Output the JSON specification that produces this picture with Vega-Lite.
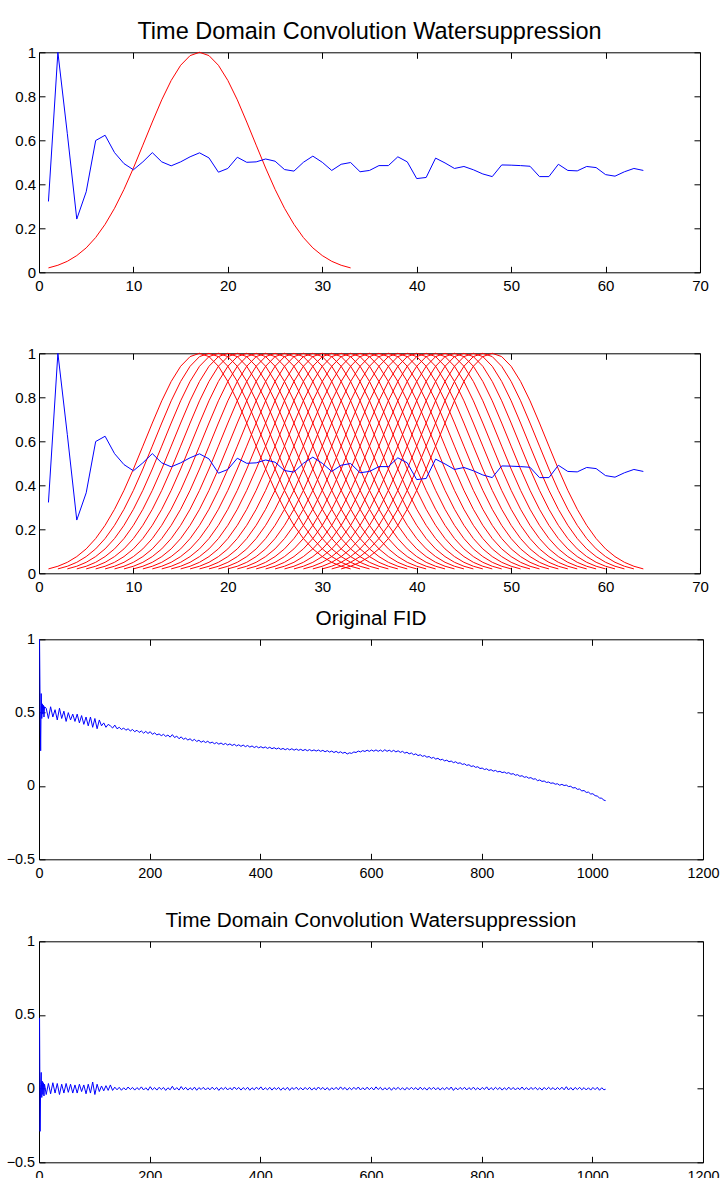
{
  "$schema": "https://vega.github.io/schema/vega-lite/v6.json",
  "background": "white",
  "padding": {"left": 5, "top": 19.3, "right": 3, "bottom": 0},
  "bounds": "full",
  "spacing": 12,
  "config": {
    "font": "Liberation Sans",
    "view": {"stroke": "black", "strokeWidth": 1},
    "axis": {"grid": false, "domain": false, "ticks": true, "tickSize": -6, "tickColor": "black", "labelColor": "black", "labelFont": "Liberation Sans", "labelFontSize": 15, "labelFlush": false, "labelOverlap": false, "format": "~r"},
    "axisX": {"labelPadding": 12.5},
    "axisY": {"labelPadding": 9.3},
    "title": {"font": "Liberation Sans", "fontWeight": "normal", "color": "black", "baseline": "alphabetic", "anchor": "middle"},
    "line": {"strokeWidth": 1}
  },
  "datasets": {
    "blue": [{"x":1,"y":0.322},{"x":2,"y":1.0},{"x":3,"y":0.63},{"x":4,"y":0.242},{"x":5,"y":0.366},{"x":6,"y":0.599},{"x":7,"y":0.623},{"x":8,"y":0.544},{"x":9,"y":0.494},{"x":10,"y":0.466},{"x":11,"y":0.502},{"x":12,"y":0.544},{"x":13,"y":0.502},{"x":14,"y":0.484},{"x":15,"y":0.502},{"x":16,"y":0.525},{"x":17,"y":0.543},{"x":18,"y":0.52},{"x":19,"y":0.455},{"x":20,"y":0.472},{"x":21,"y":0.523},{"x":22,"y":0.5},{"x":23,"y":0.502},{"x":24,"y":0.515},{"x":25,"y":0.505},{"x":26,"y":0.467},{"x":27,"y":0.46},{"x":28,"y":0.5},{"x":29,"y":0.528},{"x":30,"y":0.5},{"x":31,"y":0.463},{"x":32,"y":0.491},{"x":33,"y":0.499},{"x":34,"y":0.457},{"x":35,"y":0.463},{"x":36,"y":0.485},{"x":37,"y":0.485},{"x":38,"y":0.525},{"x":39,"y":0.502},{"x":40,"y":0.426},{"x":41,"y":0.431},{"x":42,"y":0.519},{"x":43,"y":0.497},{"x":44,"y":0.472},{"x":45,"y":0.481},{"x":46,"y":0.466},{"x":47,"y":0.447},{"x":48,"y":0.435},{"x":49,"y":0.488},{"x":50,"y":0.487},{"x":51,"y":0.485},{"x":52,"y":0.482},{"x":53,"y":0.435},{"x":54,"y":0.435},{"x":55,"y":0.491},{"x":56,"y":0.463},{"x":57,"y":0.461},{"x":58,"y":0.481},{"x":59,"y":0.476},{"x":60,"y":0.444},{"x":61,"y":0.437},{"x":62,"y":0.457},{"x":63,"y":0.472},{"x":64,"y":0.463}],
    "redOne": [{"x":1,"y":0.02},{"x":2,"y":0.032},{"x":3,"y":0.05},{"x":4,"y":0.076},{"x":5,"y":0.111},{"x":6,"y":0.158},{"x":7,"y":0.218},{"x":8,"y":0.291},{"x":9,"y":0.377},{"x":10,"y":0.474},{"x":11,"y":0.578},{"x":12,"y":0.683},{"x":13,"y":0.784},{"x":14,"y":0.872},{"x":15,"y":0.941},{"x":16,"y":0.985},{"x":17,"y":1},{"x":18,"y":0.985},{"x":19,"y":0.941},{"x":20,"y":0.872},{"x":21,"y":0.784},{"x":22,"y":0.683},{"x":23,"y":0.578},{"x":24,"y":0.474},{"x":25,"y":0.377},{"x":26,"y":0.291},{"x":27,"y":0.218},{"x":28,"y":0.158},{"x":29,"y":0.111},{"x":30,"y":0.076},{"x":31,"y":0.05},{"x":32,"y":0.032},{"x":33,"y":0.02}],
    "redMulti": [
{"c":1,"x":1,"y":0.02},{"c":1,"x":2,"y":0.032},{"c":1,"x":3,"y":0.05},{"c":1,"x":4,"y":0.076},{"c":1,"x":5,"y":0.111},{"c":1,"x":6,"y":0.158},{"c":1,"x":7,"y":0.218},{"c":1,"x":8,"y":0.291},{"c":1,"x":9,"y":0.377},{"c":1,"x":10,"y":0.474},{"c":1,"x":11,"y":0.578},{"c":1,"x":12,"y":0.683},{"c":1,"x":13,"y":0.784},{"c":1,"x":14,"y":0.872},{"c":1,"x":15,"y":0.941},{"c":1,"x":16,"y":0.985},{"c":1,"x":17,"y":1},{"c":1,"x":18,"y":0.985},{"c":1,"x":19,"y":0.941},{"c":1,"x":20,"y":0.872},{"c":1,"x":21,"y":0.784},{"c":1,"x":22,"y":0.683},{"c":1,"x":23,"y":0.578},{"c":1,"x":24,"y":0.474},{"c":1,"x":25,"y":0.377},{"c":1,"x":26,"y":0.291},{"c":1,"x":27,"y":0.218},{"c":1,"x":28,"y":0.158},{"c":1,"x":29,"y":0.111},{"c":1,"x":30,"y":0.076},{"c":1,"x":31,"y":0.05},{"c":1,"x":32,"y":0.032},{"c":1,"x":33,"y":0.02},
{"c":2,"x":2,"y":0.02},{"c":2,"x":3,"y":0.032},{"c":2,"x":4,"y":0.05},{"c":2,"x":5,"y":0.076},{"c":2,"x":6,"y":0.111},{"c":2,"x":7,"y":0.158},{"c":2,"x":8,"y":0.218},{"c":2,"x":9,"y":0.291},{"c":2,"x":10,"y":0.377},{"c":2,"x":11,"y":0.474},{"c":2,"x":12,"y":0.578},{"c":2,"x":13,"y":0.683},{"c":2,"x":14,"y":0.784},{"c":2,"x":15,"y":0.872},{"c":2,"x":16,"y":0.941},{"c":2,"x":17,"y":0.985},{"c":2,"x":18,"y":1},{"c":2,"x":19,"y":0.985},{"c":2,"x":20,"y":0.941},{"c":2,"x":21,"y":0.872},{"c":2,"x":22,"y":0.784},{"c":2,"x":23,"y":0.683},{"c":2,"x":24,"y":0.578},{"c":2,"x":25,"y":0.474},{"c":2,"x":26,"y":0.377},{"c":2,"x":27,"y":0.291},{"c":2,"x":28,"y":0.218},{"c":2,"x":29,"y":0.158},{"c":2,"x":30,"y":0.111},{"c":2,"x":31,"y":0.076},{"c":2,"x":32,"y":0.05},{"c":2,"x":33,"y":0.032},{"c":2,"x":34,"y":0.02},
{"c":3,"x":3,"y":0.02},{"c":3,"x":4,"y":0.032},{"c":3,"x":5,"y":0.05},{"c":3,"x":6,"y":0.076},{"c":3,"x":7,"y":0.111},{"c":3,"x":8,"y":0.158},{"c":3,"x":9,"y":0.218},{"c":3,"x":10,"y":0.291},{"c":3,"x":11,"y":0.377},{"c":3,"x":12,"y":0.474},{"c":3,"x":13,"y":0.578},{"c":3,"x":14,"y":0.683},{"c":3,"x":15,"y":0.784},{"c":3,"x":16,"y":0.872},{"c":3,"x":17,"y":0.941},{"c":3,"x":18,"y":0.985},{"c":3,"x":19,"y":1},{"c":3,"x":20,"y":0.985},{"c":3,"x":21,"y":0.941},{"c":3,"x":22,"y":0.872},{"c":3,"x":23,"y":0.784},{"c":3,"x":24,"y":0.683},{"c":3,"x":25,"y":0.578},{"c":3,"x":26,"y":0.474},{"c":3,"x":27,"y":0.377},{"c":3,"x":28,"y":0.291},{"c":3,"x":29,"y":0.218},{"c":3,"x":30,"y":0.158},{"c":3,"x":31,"y":0.111},{"c":3,"x":32,"y":0.076},{"c":3,"x":33,"y":0.05},{"c":3,"x":34,"y":0.032},{"c":3,"x":35,"y":0.02},
{"c":4,"x":4,"y":0.02},{"c":4,"x":5,"y":0.032},{"c":4,"x":6,"y":0.05},{"c":4,"x":7,"y":0.076},{"c":4,"x":8,"y":0.111},{"c":4,"x":9,"y":0.158},{"c":4,"x":10,"y":0.218},{"c":4,"x":11,"y":0.291},{"c":4,"x":12,"y":0.377},{"c":4,"x":13,"y":0.474},{"c":4,"x":14,"y":0.578},{"c":4,"x":15,"y":0.683},{"c":4,"x":16,"y":0.784},{"c":4,"x":17,"y":0.872},{"c":4,"x":18,"y":0.941},{"c":4,"x":19,"y":0.985},{"c":4,"x":20,"y":1},{"c":4,"x":21,"y":0.985},{"c":4,"x":22,"y":0.941},{"c":4,"x":23,"y":0.872},{"c":4,"x":24,"y":0.784},{"c":4,"x":25,"y":0.683},{"c":4,"x":26,"y":0.578},{"c":4,"x":27,"y":0.474},{"c":4,"x":28,"y":0.377},{"c":4,"x":29,"y":0.291},{"c":4,"x":30,"y":0.218},{"c":4,"x":31,"y":0.158},{"c":4,"x":32,"y":0.111},{"c":4,"x":33,"y":0.076},{"c":4,"x":34,"y":0.05},{"c":4,"x":35,"y":0.032},{"c":4,"x":36,"y":0.02},
{"c":5,"x":5,"y":0.02},{"c":5,"x":6,"y":0.032},{"c":5,"x":7,"y":0.05},{"c":5,"x":8,"y":0.076},{"c":5,"x":9,"y":0.111},{"c":5,"x":10,"y":0.158},{"c":5,"x":11,"y":0.218},{"c":5,"x":12,"y":0.291},{"c":5,"x":13,"y":0.377},{"c":5,"x":14,"y":0.474},{"c":5,"x":15,"y":0.578},{"c":5,"x":16,"y":0.683},{"c":5,"x":17,"y":0.784},{"c":5,"x":18,"y":0.872},{"c":5,"x":19,"y":0.941},{"c":5,"x":20,"y":0.985},{"c":5,"x":21,"y":1},{"c":5,"x":22,"y":0.985},{"c":5,"x":23,"y":0.941},{"c":5,"x":24,"y":0.872},{"c":5,"x":25,"y":0.784},{"c":5,"x":26,"y":0.683},{"c":5,"x":27,"y":0.578},{"c":5,"x":28,"y":0.474},{"c":5,"x":29,"y":0.377},{"c":5,"x":30,"y":0.291},{"c":5,"x":31,"y":0.218},{"c":5,"x":32,"y":0.158},{"c":5,"x":33,"y":0.111},{"c":5,"x":34,"y":0.076},{"c":5,"x":35,"y":0.05},{"c":5,"x":36,"y":0.032},{"c":5,"x":37,"y":0.02},
{"c":6,"x":6,"y":0.02},{"c":6,"x":7,"y":0.032},{"c":6,"x":8,"y":0.05},{"c":6,"x":9,"y":0.076},{"c":6,"x":10,"y":0.111},{"c":6,"x":11,"y":0.158},{"c":6,"x":12,"y":0.218},{"c":6,"x":13,"y":0.291},{"c":6,"x":14,"y":0.377},{"c":6,"x":15,"y":0.474},{"c":6,"x":16,"y":0.578},{"c":6,"x":17,"y":0.683},{"c":6,"x":18,"y":0.784},{"c":6,"x":19,"y":0.872},{"c":6,"x":20,"y":0.941},{"c":6,"x":21,"y":0.985},{"c":6,"x":22,"y":1},{"c":6,"x":23,"y":0.985},{"c":6,"x":24,"y":0.941},{"c":6,"x":25,"y":0.872},{"c":6,"x":26,"y":0.784},{"c":6,"x":27,"y":0.683},{"c":6,"x":28,"y":0.578},{"c":6,"x":29,"y":0.474},{"c":6,"x":30,"y":0.377},{"c":6,"x":31,"y":0.291},{"c":6,"x":32,"y":0.218},{"c":6,"x":33,"y":0.158},{"c":6,"x":34,"y":0.111},{"c":6,"x":35,"y":0.076},{"c":6,"x":36,"y":0.05},{"c":6,"x":37,"y":0.032},{"c":6,"x":38,"y":0.02},
{"c":7,"x":7,"y":0.02},{"c":7,"x":8,"y":0.032},{"c":7,"x":9,"y":0.05},{"c":7,"x":10,"y":0.076},{"c":7,"x":11,"y":0.111},{"c":7,"x":12,"y":0.158},{"c":7,"x":13,"y":0.218},{"c":7,"x":14,"y":0.291},{"c":7,"x":15,"y":0.377},{"c":7,"x":16,"y":0.474},{"c":7,"x":17,"y":0.578},{"c":7,"x":18,"y":0.683},{"c":7,"x":19,"y":0.784},{"c":7,"x":20,"y":0.872},{"c":7,"x":21,"y":0.941},{"c":7,"x":22,"y":0.985},{"c":7,"x":23,"y":1},{"c":7,"x":24,"y":0.985},{"c":7,"x":25,"y":0.941},{"c":7,"x":26,"y":0.872},{"c":7,"x":27,"y":0.784},{"c":7,"x":28,"y":0.683},{"c":7,"x":29,"y":0.578},{"c":7,"x":30,"y":0.474},{"c":7,"x":31,"y":0.377},{"c":7,"x":32,"y":0.291},{"c":7,"x":33,"y":0.218},{"c":7,"x":34,"y":0.158},{"c":7,"x":35,"y":0.111},{"c":7,"x":36,"y":0.076},{"c":7,"x":37,"y":0.05},{"c":7,"x":38,"y":0.032},{"c":7,"x":39,"y":0.02},
{"c":8,"x":8,"y":0.02},{"c":8,"x":9,"y":0.032},{"c":8,"x":10,"y":0.05},{"c":8,"x":11,"y":0.076},{"c":8,"x":12,"y":0.111},{"c":8,"x":13,"y":0.158},{"c":8,"x":14,"y":0.218},{"c":8,"x":15,"y":0.291},{"c":8,"x":16,"y":0.377},{"c":8,"x":17,"y":0.474},{"c":8,"x":18,"y":0.578},{"c":8,"x":19,"y":0.683},{"c":8,"x":20,"y":0.784},{"c":8,"x":21,"y":0.872},{"c":8,"x":22,"y":0.941},{"c":8,"x":23,"y":0.985},{"c":8,"x":24,"y":1},{"c":8,"x":25,"y":0.985},{"c":8,"x":26,"y":0.941},{"c":8,"x":27,"y":0.872},{"c":8,"x":28,"y":0.784},{"c":8,"x":29,"y":0.683},{"c":8,"x":30,"y":0.578},{"c":8,"x":31,"y":0.474},{"c":8,"x":32,"y":0.377},{"c":8,"x":33,"y":0.291},{"c":8,"x":34,"y":0.218},{"c":8,"x":35,"y":0.158},{"c":8,"x":36,"y":0.111},{"c":8,"x":37,"y":0.076},{"c":8,"x":38,"y":0.05},{"c":8,"x":39,"y":0.032},{"c":8,"x":40,"y":0.02},
{"c":9,"x":9,"y":0.02},{"c":9,"x":10,"y":0.032},{"c":9,"x":11,"y":0.05},{"c":9,"x":12,"y":0.076},{"c":9,"x":13,"y":0.111},{"c":9,"x":14,"y":0.158},{"c":9,"x":15,"y":0.218},{"c":9,"x":16,"y":0.291},{"c":9,"x":17,"y":0.377},{"c":9,"x":18,"y":0.474},{"c":9,"x":19,"y":0.578},{"c":9,"x":20,"y":0.683},{"c":9,"x":21,"y":0.784},{"c":9,"x":22,"y":0.872},{"c":9,"x":23,"y":0.941},{"c":9,"x":24,"y":0.985},{"c":9,"x":25,"y":1},{"c":9,"x":26,"y":0.985},{"c":9,"x":27,"y":0.941},{"c":9,"x":28,"y":0.872},{"c":9,"x":29,"y":0.784},{"c":9,"x":30,"y":0.683},{"c":9,"x":31,"y":0.578},{"c":9,"x":32,"y":0.474},{"c":9,"x":33,"y":0.377},{"c":9,"x":34,"y":0.291},{"c":9,"x":35,"y":0.218},{"c":9,"x":36,"y":0.158},{"c":9,"x":37,"y":0.111},{"c":9,"x":38,"y":0.076},{"c":9,"x":39,"y":0.05},{"c":9,"x":40,"y":0.032},{"c":9,"x":41,"y":0.02},
{"c":10,"x":10,"y":0.02},{"c":10,"x":11,"y":0.032},{"c":10,"x":12,"y":0.05},{"c":10,"x":13,"y":0.076},{"c":10,"x":14,"y":0.111},{"c":10,"x":15,"y":0.158},{"c":10,"x":16,"y":0.218},{"c":10,"x":17,"y":0.291},{"c":10,"x":18,"y":0.377},{"c":10,"x":19,"y":0.474},{"c":10,"x":20,"y":0.578},{"c":10,"x":21,"y":0.683},{"c":10,"x":22,"y":0.784},{"c":10,"x":23,"y":0.872},{"c":10,"x":24,"y":0.941},{"c":10,"x":25,"y":0.985},{"c":10,"x":26,"y":1},{"c":10,"x":27,"y":0.985},{"c":10,"x":28,"y":0.941},{"c":10,"x":29,"y":0.872},{"c":10,"x":30,"y":0.784},{"c":10,"x":31,"y":0.683},{"c":10,"x":32,"y":0.578},{"c":10,"x":33,"y":0.474},{"c":10,"x":34,"y":0.377},{"c":10,"x":35,"y":0.291},{"c":10,"x":36,"y":0.218},{"c":10,"x":37,"y":0.158},{"c":10,"x":38,"y":0.111},{"c":10,"x":39,"y":0.076},{"c":10,"x":40,"y":0.05},{"c":10,"x":41,"y":0.032},{"c":10,"x":42,"y":0.02},
{"c":11,"x":11,"y":0.02},{"c":11,"x":12,"y":0.032},{"c":11,"x":13,"y":0.05},{"c":11,"x":14,"y":0.076},{"c":11,"x":15,"y":0.111},{"c":11,"x":16,"y":0.158},{"c":11,"x":17,"y":0.218},{"c":11,"x":18,"y":0.291},{"c":11,"x":19,"y":0.377},{"c":11,"x":20,"y":0.474},{"c":11,"x":21,"y":0.578},{"c":11,"x":22,"y":0.683},{"c":11,"x":23,"y":0.784},{"c":11,"x":24,"y":0.872},{"c":11,"x":25,"y":0.941},{"c":11,"x":26,"y":0.985},{"c":11,"x":27,"y":1},{"c":11,"x":28,"y":0.985},{"c":11,"x":29,"y":0.941},{"c":11,"x":30,"y":0.872},{"c":11,"x":31,"y":0.784},{"c":11,"x":32,"y":0.683},{"c":11,"x":33,"y":0.578},{"c":11,"x":34,"y":0.474},{"c":11,"x":35,"y":0.377},{"c":11,"x":36,"y":0.291},{"c":11,"x":37,"y":0.218},{"c":11,"x":38,"y":0.158},{"c":11,"x":39,"y":0.111},{"c":11,"x":40,"y":0.076},{"c":11,"x":41,"y":0.05},{"c":11,"x":42,"y":0.032},{"c":11,"x":43,"y":0.02},
{"c":12,"x":12,"y":0.02},{"c":12,"x":13,"y":0.032},{"c":12,"x":14,"y":0.05},{"c":12,"x":15,"y":0.076},{"c":12,"x":16,"y":0.111},{"c":12,"x":17,"y":0.158},{"c":12,"x":18,"y":0.218},{"c":12,"x":19,"y":0.291},{"c":12,"x":20,"y":0.377},{"c":12,"x":21,"y":0.474},{"c":12,"x":22,"y":0.578},{"c":12,"x":23,"y":0.683},{"c":12,"x":24,"y":0.784},{"c":12,"x":25,"y":0.872},{"c":12,"x":26,"y":0.941},{"c":12,"x":27,"y":0.985},{"c":12,"x":28,"y":1},{"c":12,"x":29,"y":0.985},{"c":12,"x":30,"y":0.941},{"c":12,"x":31,"y":0.872},{"c":12,"x":32,"y":0.784},{"c":12,"x":33,"y":0.683},{"c":12,"x":34,"y":0.578},{"c":12,"x":35,"y":0.474},{"c":12,"x":36,"y":0.377},{"c":12,"x":37,"y":0.291},{"c":12,"x":38,"y":0.218},{"c":12,"x":39,"y":0.158},{"c":12,"x":40,"y":0.111},{"c":12,"x":41,"y":0.076},{"c":12,"x":42,"y":0.05},{"c":12,"x":43,"y":0.032},{"c":12,"x":44,"y":0.02},
{"c":13,"x":13,"y":0.02},{"c":13,"x":14,"y":0.032},{"c":13,"x":15,"y":0.05},{"c":13,"x":16,"y":0.076},{"c":13,"x":17,"y":0.111},{"c":13,"x":18,"y":0.158},{"c":13,"x":19,"y":0.218},{"c":13,"x":20,"y":0.291},{"c":13,"x":21,"y":0.377},{"c":13,"x":22,"y":0.474},{"c":13,"x":23,"y":0.578},{"c":13,"x":24,"y":0.683},{"c":13,"x":25,"y":0.784},{"c":13,"x":26,"y":0.872},{"c":13,"x":27,"y":0.941},{"c":13,"x":28,"y":0.985},{"c":13,"x":29,"y":1},{"c":13,"x":30,"y":0.985},{"c":13,"x":31,"y":0.941},{"c":13,"x":32,"y":0.872},{"c":13,"x":33,"y":0.784},{"c":13,"x":34,"y":0.683},{"c":13,"x":35,"y":0.578},{"c":13,"x":36,"y":0.474},{"c":13,"x":37,"y":0.377},{"c":13,"x":38,"y":0.291},{"c":13,"x":39,"y":0.218},{"c":13,"x":40,"y":0.158},{"c":13,"x":41,"y":0.111},{"c":13,"x":42,"y":0.076},{"c":13,"x":43,"y":0.05},{"c":13,"x":44,"y":0.032},{"c":13,"x":45,"y":0.02},
{"c":14,"x":14,"y":0.02},{"c":14,"x":15,"y":0.032},{"c":14,"x":16,"y":0.05},{"c":14,"x":17,"y":0.076},{"c":14,"x":18,"y":0.111},{"c":14,"x":19,"y":0.158},{"c":14,"x":20,"y":0.218},{"c":14,"x":21,"y":0.291},{"c":14,"x":22,"y":0.377},{"c":14,"x":23,"y":0.474},{"c":14,"x":24,"y":0.578},{"c":14,"x":25,"y":0.683},{"c":14,"x":26,"y":0.784},{"c":14,"x":27,"y":0.872},{"c":14,"x":28,"y":0.941},{"c":14,"x":29,"y":0.985},{"c":14,"x":30,"y":1},{"c":14,"x":31,"y":0.985},{"c":14,"x":32,"y":0.941},{"c":14,"x":33,"y":0.872},{"c":14,"x":34,"y":0.784},{"c":14,"x":35,"y":0.683},{"c":14,"x":36,"y":0.578},{"c":14,"x":37,"y":0.474},{"c":14,"x":38,"y":0.377},{"c":14,"x":39,"y":0.291},{"c":14,"x":40,"y":0.218},{"c":14,"x":41,"y":0.158},{"c":14,"x":42,"y":0.111},{"c":14,"x":43,"y":0.076},{"c":14,"x":44,"y":0.05},{"c":14,"x":45,"y":0.032},{"c":14,"x":46,"y":0.02},
{"c":15,"x":15,"y":0.02},{"c":15,"x":16,"y":0.032},{"c":15,"x":17,"y":0.05},{"c":15,"x":18,"y":0.076},{"c":15,"x":19,"y":0.111},{"c":15,"x":20,"y":0.158},{"c":15,"x":21,"y":0.218},{"c":15,"x":22,"y":0.291},{"c":15,"x":23,"y":0.377},{"c":15,"x":24,"y":0.474},{"c":15,"x":25,"y":0.578},{"c":15,"x":26,"y":0.683},{"c":15,"x":27,"y":0.784},{"c":15,"x":28,"y":0.872},{"c":15,"x":29,"y":0.941},{"c":15,"x":30,"y":0.985},{"c":15,"x":31,"y":1},{"c":15,"x":32,"y":0.985},{"c":15,"x":33,"y":0.941},{"c":15,"x":34,"y":0.872},{"c":15,"x":35,"y":0.784},{"c":15,"x":36,"y":0.683},{"c":15,"x":37,"y":0.578},{"c":15,"x":38,"y":0.474},{"c":15,"x":39,"y":0.377},{"c":15,"x":40,"y":0.291},{"c":15,"x":41,"y":0.218},{"c":15,"x":42,"y":0.158},{"c":15,"x":43,"y":0.111},{"c":15,"x":44,"y":0.076},{"c":15,"x":45,"y":0.05},{"c":15,"x":46,"y":0.032},{"c":15,"x":47,"y":0.02},
{"c":16,"x":16,"y":0.02},{"c":16,"x":17,"y":0.032},{"c":16,"x":18,"y":0.05},{"c":16,"x":19,"y":0.076},{"c":16,"x":20,"y":0.111},{"c":16,"x":21,"y":0.158},{"c":16,"x":22,"y":0.218},{"c":16,"x":23,"y":0.291},{"c":16,"x":24,"y":0.377},{"c":16,"x":25,"y":0.474},{"c":16,"x":26,"y":0.578},{"c":16,"x":27,"y":0.683},{"c":16,"x":28,"y":0.784},{"c":16,"x":29,"y":0.872},{"c":16,"x":30,"y":0.941},{"c":16,"x":31,"y":0.985},{"c":16,"x":32,"y":1},{"c":16,"x":33,"y":0.985},{"c":16,"x":34,"y":0.941},{"c":16,"x":35,"y":0.872},{"c":16,"x":36,"y":0.784},{"c":16,"x":37,"y":0.683},{"c":16,"x":38,"y":0.578},{"c":16,"x":39,"y":0.474},{"c":16,"x":40,"y":0.377},{"c":16,"x":41,"y":0.291},{"c":16,"x":42,"y":0.218},{"c":16,"x":43,"y":0.158},{"c":16,"x":44,"y":0.111},{"c":16,"x":45,"y":0.076},{"c":16,"x":46,"y":0.05},{"c":16,"x":47,"y":0.032},{"c":16,"x":48,"y":0.02},
{"c":17,"x":17,"y":0.02},{"c":17,"x":18,"y":0.032},{"c":17,"x":19,"y":0.05},{"c":17,"x":20,"y":0.076},{"c":17,"x":21,"y":0.111},{"c":17,"x":22,"y":0.158},{"c":17,"x":23,"y":0.218},{"c":17,"x":24,"y":0.291},{"c":17,"x":25,"y":0.377},{"c":17,"x":26,"y":0.474},{"c":17,"x":27,"y":0.578},{"c":17,"x":28,"y":0.683},{"c":17,"x":29,"y":0.784},{"c":17,"x":30,"y":0.872},{"c":17,"x":31,"y":0.941},{"c":17,"x":32,"y":0.985},{"c":17,"x":33,"y":1},{"c":17,"x":34,"y":0.985},{"c":17,"x":35,"y":0.941},{"c":17,"x":36,"y":0.872},{"c":17,"x":37,"y":0.784},{"c":17,"x":38,"y":0.683},{"c":17,"x":39,"y":0.578},{"c":17,"x":40,"y":0.474},{"c":17,"x":41,"y":0.377},{"c":17,"x":42,"y":0.291},{"c":17,"x":43,"y":0.218},{"c":17,"x":44,"y":0.158},{"c":17,"x":45,"y":0.111},{"c":17,"x":46,"y":0.076},{"c":17,"x":47,"y":0.05},{"c":17,"x":48,"y":0.032},{"c":17,"x":49,"y":0.02},
{"c":18,"x":18,"y":0.02},{"c":18,"x":19,"y":0.032},{"c":18,"x":20,"y":0.05},{"c":18,"x":21,"y":0.076},{"c":18,"x":22,"y":0.111},{"c":18,"x":23,"y":0.158},{"c":18,"x":24,"y":0.218},{"c":18,"x":25,"y":0.291},{"c":18,"x":26,"y":0.377},{"c":18,"x":27,"y":0.474},{"c":18,"x":28,"y":0.578},{"c":18,"x":29,"y":0.683},{"c":18,"x":30,"y":0.784},{"c":18,"x":31,"y":0.872},{"c":18,"x":32,"y":0.941},{"c":18,"x":33,"y":0.985},{"c":18,"x":34,"y":1},{"c":18,"x":35,"y":0.985},{"c":18,"x":36,"y":0.941},{"c":18,"x":37,"y":0.872},{"c":18,"x":38,"y":0.784},{"c":18,"x":39,"y":0.683},{"c":18,"x":40,"y":0.578},{"c":18,"x":41,"y":0.474},{"c":18,"x":42,"y":0.377},{"c":18,"x":43,"y":0.291},{"c":18,"x":44,"y":0.218},{"c":18,"x":45,"y":0.158},{"c":18,"x":46,"y":0.111},{"c":18,"x":47,"y":0.076},{"c":18,"x":48,"y":0.05},{"c":18,"x":49,"y":0.032},{"c":18,"x":50,"y":0.02},
{"c":19,"x":19,"y":0.02},{"c":19,"x":20,"y":0.032},{"c":19,"x":21,"y":0.05},{"c":19,"x":22,"y":0.076},{"c":19,"x":23,"y":0.111},{"c":19,"x":24,"y":0.158},{"c":19,"x":25,"y":0.218},{"c":19,"x":26,"y":0.291},{"c":19,"x":27,"y":0.377},{"c":19,"x":28,"y":0.474},{"c":19,"x":29,"y":0.578},{"c":19,"x":30,"y":0.683},{"c":19,"x":31,"y":0.784},{"c":19,"x":32,"y":0.872},{"c":19,"x":33,"y":0.941},{"c":19,"x":34,"y":0.985},{"c":19,"x":35,"y":1},{"c":19,"x":36,"y":0.985},{"c":19,"x":37,"y":0.941},{"c":19,"x":38,"y":0.872},{"c":19,"x":39,"y":0.784},{"c":19,"x":40,"y":0.683},{"c":19,"x":41,"y":0.578},{"c":19,"x":42,"y":0.474},{"c":19,"x":43,"y":0.377},{"c":19,"x":44,"y":0.291},{"c":19,"x":45,"y":0.218},{"c":19,"x":46,"y":0.158},{"c":19,"x":47,"y":0.111},{"c":19,"x":48,"y":0.076},{"c":19,"x":49,"y":0.05},{"c":19,"x":50,"y":0.032},{"c":19,"x":51,"y":0.02},
{"c":20,"x":20,"y":0.02},{"c":20,"x":21,"y":0.032},{"c":20,"x":22,"y":0.05},{"c":20,"x":23,"y":0.076},{"c":20,"x":24,"y":0.111},{"c":20,"x":25,"y":0.158},{"c":20,"x":26,"y":0.218},{"c":20,"x":27,"y":0.291},{"c":20,"x":28,"y":0.377},{"c":20,"x":29,"y":0.474},{"c":20,"x":30,"y":0.578},{"c":20,"x":31,"y":0.683},{"c":20,"x":32,"y":0.784},{"c":20,"x":33,"y":0.872},{"c":20,"x":34,"y":0.941},{"c":20,"x":35,"y":0.985},{"c":20,"x":36,"y":1},{"c":20,"x":37,"y":0.985},{"c":20,"x":38,"y":0.941},{"c":20,"x":39,"y":0.872},{"c":20,"x":40,"y":0.784},{"c":20,"x":41,"y":0.683},{"c":20,"x":42,"y":0.578},{"c":20,"x":43,"y":0.474},{"c":20,"x":44,"y":0.377},{"c":20,"x":45,"y":0.291},{"c":20,"x":46,"y":0.218},{"c":20,"x":47,"y":0.158},{"c":20,"x":48,"y":0.111},{"c":20,"x":49,"y":0.076},{"c":20,"x":50,"y":0.05},{"c":20,"x":51,"y":0.032},{"c":20,"x":52,"y":0.02},
{"c":21,"x":21,"y":0.02},{"c":21,"x":22,"y":0.032},{"c":21,"x":23,"y":0.05},{"c":21,"x":24,"y":0.076},{"c":21,"x":25,"y":0.111},{"c":21,"x":26,"y":0.158},{"c":21,"x":27,"y":0.218},{"c":21,"x":28,"y":0.291},{"c":21,"x":29,"y":0.377},{"c":21,"x":30,"y":0.474},{"c":21,"x":31,"y":0.578},{"c":21,"x":32,"y":0.683},{"c":21,"x":33,"y":0.784},{"c":21,"x":34,"y":0.872},{"c":21,"x":35,"y":0.941},{"c":21,"x":36,"y":0.985},{"c":21,"x":37,"y":1},{"c":21,"x":38,"y":0.985},{"c":21,"x":39,"y":0.941},{"c":21,"x":40,"y":0.872},{"c":21,"x":41,"y":0.784},{"c":21,"x":42,"y":0.683},{"c":21,"x":43,"y":0.578},{"c":21,"x":44,"y":0.474},{"c":21,"x":45,"y":0.377},{"c":21,"x":46,"y":0.291},{"c":21,"x":47,"y":0.218},{"c":21,"x":48,"y":0.158},{"c":21,"x":49,"y":0.111},{"c":21,"x":50,"y":0.076},{"c":21,"x":51,"y":0.05},{"c":21,"x":52,"y":0.032},{"c":21,"x":53,"y":0.02},
{"c":22,"x":22,"y":0.02},{"c":22,"x":23,"y":0.032},{"c":22,"x":24,"y":0.05},{"c":22,"x":25,"y":0.076},{"c":22,"x":26,"y":0.111},{"c":22,"x":27,"y":0.158},{"c":22,"x":28,"y":0.218},{"c":22,"x":29,"y":0.291},{"c":22,"x":30,"y":0.377},{"c":22,"x":31,"y":0.474},{"c":22,"x":32,"y":0.578},{"c":22,"x":33,"y":0.683},{"c":22,"x":34,"y":0.784},{"c":22,"x":35,"y":0.872},{"c":22,"x":36,"y":0.941},{"c":22,"x":37,"y":0.985},{"c":22,"x":38,"y":1},{"c":22,"x":39,"y":0.985},{"c":22,"x":40,"y":0.941},{"c":22,"x":41,"y":0.872},{"c":22,"x":42,"y":0.784},{"c":22,"x":43,"y":0.683},{"c":22,"x":44,"y":0.578},{"c":22,"x":45,"y":0.474},{"c":22,"x":46,"y":0.377},{"c":22,"x":47,"y":0.291},{"c":22,"x":48,"y":0.218},{"c":22,"x":49,"y":0.158},{"c":22,"x":50,"y":0.111},{"c":22,"x":51,"y":0.076},{"c":22,"x":52,"y":0.05},{"c":22,"x":53,"y":0.032},{"c":22,"x":54,"y":0.02},
{"c":23,"x":23,"y":0.02},{"c":23,"x":24,"y":0.032},{"c":23,"x":25,"y":0.05},{"c":23,"x":26,"y":0.076},{"c":23,"x":27,"y":0.111},{"c":23,"x":28,"y":0.158},{"c":23,"x":29,"y":0.218},{"c":23,"x":30,"y":0.291},{"c":23,"x":31,"y":0.377},{"c":23,"x":32,"y":0.474},{"c":23,"x":33,"y":0.578},{"c":23,"x":34,"y":0.683},{"c":23,"x":35,"y":0.784},{"c":23,"x":36,"y":0.872},{"c":23,"x":37,"y":0.941},{"c":23,"x":38,"y":0.985},{"c":23,"x":39,"y":1},{"c":23,"x":40,"y":0.985},{"c":23,"x":41,"y":0.941},{"c":23,"x":42,"y":0.872},{"c":23,"x":43,"y":0.784},{"c":23,"x":44,"y":0.683},{"c":23,"x":45,"y":0.578},{"c":23,"x":46,"y":0.474},{"c":23,"x":47,"y":0.377},{"c":23,"x":48,"y":0.291},{"c":23,"x":49,"y":0.218},{"c":23,"x":50,"y":0.158},{"c":23,"x":51,"y":0.111},{"c":23,"x":52,"y":0.076},{"c":23,"x":53,"y":0.05},{"c":23,"x":54,"y":0.032},{"c":23,"x":55,"y":0.02},
{"c":24,"x":24,"y":0.02},{"c":24,"x":25,"y":0.032},{"c":24,"x":26,"y":0.05},{"c":24,"x":27,"y":0.076},{"c":24,"x":28,"y":0.111},{"c":24,"x":29,"y":0.158},{"c":24,"x":30,"y":0.218},{"c":24,"x":31,"y":0.291},{"c":24,"x":32,"y":0.377},{"c":24,"x":33,"y":0.474},{"c":24,"x":34,"y":0.578},{"c":24,"x":35,"y":0.683},{"c":24,"x":36,"y":0.784},{"c":24,"x":37,"y":0.872},{"c":24,"x":38,"y":0.941},{"c":24,"x":39,"y":0.985},{"c":24,"x":40,"y":1},{"c":24,"x":41,"y":0.985},{"c":24,"x":42,"y":0.941},{"c":24,"x":43,"y":0.872},{"c":24,"x":44,"y":0.784},{"c":24,"x":45,"y":0.683},{"c":24,"x":46,"y":0.578},{"c":24,"x":47,"y":0.474},{"c":24,"x":48,"y":0.377},{"c":24,"x":49,"y":0.291},{"c":24,"x":50,"y":0.218},{"c":24,"x":51,"y":0.158},{"c":24,"x":52,"y":0.111},{"c":24,"x":53,"y":0.076},{"c":24,"x":54,"y":0.05},{"c":24,"x":55,"y":0.032},{"c":24,"x":56,"y":0.02},
{"c":25,"x":25,"y":0.02},{"c":25,"x":26,"y":0.032},{"c":25,"x":27,"y":0.05},{"c":25,"x":28,"y":0.076},{"c":25,"x":29,"y":0.111},{"c":25,"x":30,"y":0.158},{"c":25,"x":31,"y":0.218},{"c":25,"x":32,"y":0.291},{"c":25,"x":33,"y":0.377},{"c":25,"x":34,"y":0.474},{"c":25,"x":35,"y":0.578},{"c":25,"x":36,"y":0.683},{"c":25,"x":37,"y":0.784},{"c":25,"x":38,"y":0.872},{"c":25,"x":39,"y":0.941},{"c":25,"x":40,"y":0.985},{"c":25,"x":41,"y":1},{"c":25,"x":42,"y":0.985},{"c":25,"x":43,"y":0.941},{"c":25,"x":44,"y":0.872},{"c":25,"x":45,"y":0.784},{"c":25,"x":46,"y":0.683},{"c":25,"x":47,"y":0.578},{"c":25,"x":48,"y":0.474},{"c":25,"x":49,"y":0.377},{"c":25,"x":50,"y":0.291},{"c":25,"x":51,"y":0.218},{"c":25,"x":52,"y":0.158},{"c":25,"x":53,"y":0.111},{"c":25,"x":54,"y":0.076},{"c":25,"x":55,"y":0.05},{"c":25,"x":56,"y":0.032},{"c":25,"x":57,"y":0.02},
{"c":26,"x":26,"y":0.02},{"c":26,"x":27,"y":0.032},{"c":26,"x":28,"y":0.05},{"c":26,"x":29,"y":0.076},{"c":26,"x":30,"y":0.111},{"c":26,"x":31,"y":0.158},{"c":26,"x":32,"y":0.218},{"c":26,"x":33,"y":0.291},{"c":26,"x":34,"y":0.377},{"c":26,"x":35,"y":0.474},{"c":26,"x":36,"y":0.578},{"c":26,"x":37,"y":0.683},{"c":26,"x":38,"y":0.784},{"c":26,"x":39,"y":0.872},{"c":26,"x":40,"y":0.941},{"c":26,"x":41,"y":0.985},{"c":26,"x":42,"y":1},{"c":26,"x":43,"y":0.985},{"c":26,"x":44,"y":0.941},{"c":26,"x":45,"y":0.872},{"c":26,"x":46,"y":0.784},{"c":26,"x":47,"y":0.683},{"c":26,"x":48,"y":0.578},{"c":26,"x":49,"y":0.474},{"c":26,"x":50,"y":0.377},{"c":26,"x":51,"y":0.291},{"c":26,"x":52,"y":0.218},{"c":26,"x":53,"y":0.158},{"c":26,"x":54,"y":0.111},{"c":26,"x":55,"y":0.076},{"c":26,"x":56,"y":0.05},{"c":26,"x":57,"y":0.032},{"c":26,"x":58,"y":0.02},
{"c":27,"x":27,"y":0.02},{"c":27,"x":28,"y":0.032},{"c":27,"x":29,"y":0.05},{"c":27,"x":30,"y":0.076},{"c":27,"x":31,"y":0.111},{"c":27,"x":32,"y":0.158},{"c":27,"x":33,"y":0.218},{"c":27,"x":34,"y":0.291},{"c":27,"x":35,"y":0.377},{"c":27,"x":36,"y":0.474},{"c":27,"x":37,"y":0.578},{"c":27,"x":38,"y":0.683},{"c":27,"x":39,"y":0.784},{"c":27,"x":40,"y":0.872},{"c":27,"x":41,"y":0.941},{"c":27,"x":42,"y":0.985},{"c":27,"x":43,"y":1},{"c":27,"x":44,"y":0.985},{"c":27,"x":45,"y":0.941},{"c":27,"x":46,"y":0.872},{"c":27,"x":47,"y":0.784},{"c":27,"x":48,"y":0.683},{"c":27,"x":49,"y":0.578},{"c":27,"x":50,"y":0.474},{"c":27,"x":51,"y":0.377},{"c":27,"x":52,"y":0.291},{"c":27,"x":53,"y":0.218},{"c":27,"x":54,"y":0.158},{"c":27,"x":55,"y":0.111},{"c":27,"x":56,"y":0.076},{"c":27,"x":57,"y":0.05},{"c":27,"x":58,"y":0.032},{"c":27,"x":59,"y":0.02},
{"c":28,"x":28,"y":0.02},{"c":28,"x":29,"y":0.032},{"c":28,"x":30,"y":0.05},{"c":28,"x":31,"y":0.076},{"c":28,"x":32,"y":0.111},{"c":28,"x":33,"y":0.158},{"c":28,"x":34,"y":0.218},{"c":28,"x":35,"y":0.291},{"c":28,"x":36,"y":0.377},{"c":28,"x":37,"y":0.474},{"c":28,"x":38,"y":0.578},{"c":28,"x":39,"y":0.683},{"c":28,"x":40,"y":0.784},{"c":28,"x":41,"y":0.872},{"c":28,"x":42,"y":0.941},{"c":28,"x":43,"y":0.985},{"c":28,"x":44,"y":1},{"c":28,"x":45,"y":0.985},{"c":28,"x":46,"y":0.941},{"c":28,"x":47,"y":0.872},{"c":28,"x":48,"y":0.784},{"c":28,"x":49,"y":0.683},{"c":28,"x":50,"y":0.578},{"c":28,"x":51,"y":0.474},{"c":28,"x":52,"y":0.377},{"c":28,"x":53,"y":0.291},{"c":28,"x":54,"y":0.218},{"c":28,"x":55,"y":0.158},{"c":28,"x":56,"y":0.111},{"c":28,"x":57,"y":0.076},{"c":28,"x":58,"y":0.05},{"c":28,"x":59,"y":0.032},{"c":28,"x":60,"y":0.02},
{"c":29,"x":29,"y":0.02},{"c":29,"x":30,"y":0.032},{"c":29,"x":31,"y":0.05},{"c":29,"x":32,"y":0.076},{"c":29,"x":33,"y":0.111},{"c":29,"x":34,"y":0.158},{"c":29,"x":35,"y":0.218},{"c":29,"x":36,"y":0.291},{"c":29,"x":37,"y":0.377},{"c":29,"x":38,"y":0.474},{"c":29,"x":39,"y":0.578},{"c":29,"x":40,"y":0.683},{"c":29,"x":41,"y":0.784},{"c":29,"x":42,"y":0.872},{"c":29,"x":43,"y":0.941},{"c":29,"x":44,"y":0.985},{"c":29,"x":45,"y":1},{"c":29,"x":46,"y":0.985},{"c":29,"x":47,"y":0.941},{"c":29,"x":48,"y":0.872},{"c":29,"x":49,"y":0.784},{"c":29,"x":50,"y":0.683},{"c":29,"x":51,"y":0.578},{"c":29,"x":52,"y":0.474},{"c":29,"x":53,"y":0.377},{"c":29,"x":54,"y":0.291},{"c":29,"x":55,"y":0.218},{"c":29,"x":56,"y":0.158},{"c":29,"x":57,"y":0.111},{"c":29,"x":58,"y":0.076},{"c":29,"x":59,"y":0.05},{"c":29,"x":60,"y":0.032},{"c":29,"x":61,"y":0.02},
{"c":30,"x":30,"y":0.02},{"c":30,"x":31,"y":0.032},{"c":30,"x":32,"y":0.05},{"c":30,"x":33,"y":0.076},{"c":30,"x":34,"y":0.111},{"c":30,"x":35,"y":0.158},{"c":30,"x":36,"y":0.218},{"c":30,"x":37,"y":0.291},{"c":30,"x":38,"y":0.377},{"c":30,"x":39,"y":0.474},{"c":30,"x":40,"y":0.578},{"c":30,"x":41,"y":0.683},{"c":30,"x":42,"y":0.784},{"c":30,"x":43,"y":0.872},{"c":30,"x":44,"y":0.941},{"c":30,"x":45,"y":0.985},{"c":30,"x":46,"y":1},{"c":30,"x":47,"y":0.985},{"c":30,"x":48,"y":0.941},{"c":30,"x":49,"y":0.872},{"c":30,"x":50,"y":0.784},{"c":30,"x":51,"y":0.683},{"c":30,"x":52,"y":0.578},{"c":30,"x":53,"y":0.474},{"c":30,"x":54,"y":0.377},{"c":30,"x":55,"y":0.291},{"c":30,"x":56,"y":0.218},{"c":30,"x":57,"y":0.158},{"c":30,"x":58,"y":0.111},{"c":30,"x":59,"y":0.076},{"c":30,"x":60,"y":0.05},{"c":30,"x":61,"y":0.032},{"c":30,"x":62,"y":0.02},
{"c":31,"x":31,"y":0.02},{"c":31,"x":32,"y":0.032},{"c":31,"x":33,"y":0.05},{"c":31,"x":34,"y":0.076},{"c":31,"x":35,"y":0.111},{"c":31,"x":36,"y":0.158},{"c":31,"x":37,"y":0.218},{"c":31,"x":38,"y":0.291},{"c":31,"x":39,"y":0.377},{"c":31,"x":40,"y":0.474},{"c":31,"x":41,"y":0.578},{"c":31,"x":42,"y":0.683},{"c":31,"x":43,"y":0.784},{"c":31,"x":44,"y":0.872},{"c":31,"x":45,"y":0.941},{"c":31,"x":46,"y":0.985},{"c":31,"x":47,"y":1},{"c":31,"x":48,"y":0.985},{"c":31,"x":49,"y":0.941},{"c":31,"x":50,"y":0.872},{"c":31,"x":51,"y":0.784},{"c":31,"x":52,"y":0.683},{"c":31,"x":53,"y":0.578},{"c":31,"x":54,"y":0.474},{"c":31,"x":55,"y":0.377},{"c":31,"x":56,"y":0.291},{"c":31,"x":57,"y":0.218},{"c":31,"x":58,"y":0.158},{"c":31,"x":59,"y":0.111},{"c":31,"x":60,"y":0.076},{"c":31,"x":61,"y":0.05},{"c":31,"x":62,"y":0.032},{"c":31,"x":63,"y":0.02},
{"c":32,"x":32,"y":0.02},{"c":32,"x":33,"y":0.032},{"c":32,"x":34,"y":0.05},{"c":32,"x":35,"y":0.076},{"c":32,"x":36,"y":0.111},{"c":32,"x":37,"y":0.158},{"c":32,"x":38,"y":0.218},{"c":32,"x":39,"y":0.291},{"c":32,"x":40,"y":0.377},{"c":32,"x":41,"y":0.474},{"c":32,"x":42,"y":0.578},{"c":32,"x":43,"y":0.683},{"c":32,"x":44,"y":0.784},{"c":32,"x":45,"y":0.872},{"c":32,"x":46,"y":0.941},{"c":32,"x":47,"y":0.985},{"c":32,"x":48,"y":1},{"c":32,"x":49,"y":0.985},{"c":32,"x":50,"y":0.941},{"c":32,"x":51,"y":0.872},{"c":32,"x":52,"y":0.784},{"c":32,"x":53,"y":0.683},{"c":32,"x":54,"y":0.578},{"c":32,"x":55,"y":0.474},{"c":32,"x":56,"y":0.377},{"c":32,"x":57,"y":0.291},{"c":32,"x":58,"y":0.218},{"c":32,"x":59,"y":0.158},{"c":32,"x":60,"y":0.111},{"c":32,"x":61,"y":0.076},{"c":32,"x":62,"y":0.05},{"c":32,"x":63,"y":0.032},{"c":32,"x":64,"y":0.02}
    ],
    "fid": [{"x":1,"y":1.0},{"x":2,"y":0.55},{"x":3,"y":0.24},{"x":4,"y":0.63},{"x":5,"y":0.46},{"x":6,"y":0.56},{"x":7,"y":0.49},{"x":8,"y":0.55},{"x":9,"y":0.47},{"x":10,"y":0.54},{"x":13,"y":0.53},{"x":17,"y":0.46},{"x":21,"y":0.54},{"x":25,"y":0.47},{"x":29,"y":0.52},{"x":33,"y":0.45},{"x":37,"y":0.53},{"x":41,"y":0.46},{"x":45,"y":0.51},{"x":49,"y":0.44},{"x":53,"y":0.5},{"x":57,"y":0.45},{"x":61,"y":0.49},{"x":65,"y":0.44},{"x":69,"y":0.49},{"x":73,"y":0.43},{"x":77,"y":0.48},{"x":81,"y":0.42},{"x":85,"y":0.47},{"x":89,"y":0.41},{"x":93,"y":0.47},{"x":97,"y":0.4},{"x":101,"y":0.46},{"x":105,"y":0.39},{"x":109,"y":0.45},{"x":113,"y":0.41},{"x":117,"y":0.43},{"x":121,"y":0.4},{"x":125,"y":0.42},{"x":129,"y":0.41},{"x":133,"y":0.395},{"x":137,"y":0.415},{"x":141,"y":0.39},{"x":145,"y":0.4},{"x":149,"y":0.385},{"x":153,"y":0.395},{"x":157,"y":0.38},{"x":161,"y":0.39},{"x":165,"y":0.375},{"x":169,"y":0.385},{"x":173,"y":0.37},{"x":177,"y":0.38},{"x":181,"y":0.365},{"x":185,"y":0.375},{"x":189,"y":0.36},{"x":193,"y":0.372},{"x":197,"y":0.358},{"x":201,"y":0.37},{"x":205,"y":0.352},{"x":209,"y":0.362},{"x":213,"y":0.348},{"x":217,"y":0.355},{"x":221,"y":0.343},{"x":225,"y":0.352},{"x":229,"y":0.338},{"x":233,"y":0.347},{"x":237,"y":0.333},{"x":241,"y":0.35},{"x":245,"y":0.33},{"x":249,"y":0.34},{"x":253,"y":0.322},{"x":257,"y":0.335},{"x":261,"y":0.318},{"x":265,"y":0.326},{"x":269,"y":0.313},{"x":273,"y":0.322},{"x":277,"y":0.308},{"x":281,"y":0.318},{"x":285,"y":0.303},{"x":289,"y":0.312},{"x":293,"y":0.298},{"x":297,"y":0.307},{"x":301,"y":0.296},{"x":305,"y":0.305},{"x":309,"y":0.292},{"x":313,"y":0.299},{"x":317,"y":0.288},{"x":321,"y":0.296},{"x":325,"y":0.285},{"x":329,"y":0.293},{"x":333,"y":0.282},{"x":337,"y":0.29},{"x":341,"y":0.279},{"x":345,"y":0.287},{"x":349,"y":0.276},{"x":353,"y":0.284},{"x":357,"y":0.273},{"x":361,"y":0.281},{"x":365,"y":0.27},{"x":369,"y":0.279},{"x":373,"y":0.268},{"x":377,"y":0.276},{"x":381,"y":0.265},{"x":385,"y":0.273},{"x":389,"y":0.262},{"x":393,"y":0.27},{"x":397,"y":0.26},{"x":401,"y":0.268},{"x":405,"y":0.259},{"x":409,"y":0.266},{"x":413,"y":0.256},{"x":417,"y":0.264},{"x":421,"y":0.254},{"x":425,"y":0.261},{"x":429,"y":0.252},{"x":433,"y":0.259},{"x":437,"y":0.249},{"x":441,"y":0.256},{"x":445,"y":0.247},{"x":449,"y":0.255},{"x":453,"y":0.246},{"x":457,"y":0.254},{"x":461,"y":0.244},{"x":465,"y":0.252},{"x":469,"y":0.243},{"x":473,"y":0.25},{"x":477,"y":0.241},{"x":481,"y":0.249},{"x":485,"y":0.24},{"x":489,"y":0.248},{"x":493,"y":0.239},{"x":497,"y":0.246},{"x":501,"y":0.238},{"x":505,"y":0.245},{"x":509,"y":0.236},{"x":513,"y":0.243},{"x":517,"y":0.233},{"x":521,"y":0.241},{"x":525,"y":0.231},{"x":529,"y":0.238},{"x":533,"y":0.228},{"x":537,"y":0.236},{"x":541,"y":0.226},{"x":545,"y":0.233},{"x":549,"y":0.223},{"x":553,"y":0.23},{"x":557,"y":0.218},{"x":561,"y":0.226},{"x":565,"y":0.222},{"x":569,"y":0.232},{"x":573,"y":0.228},{"x":577,"y":0.238},{"x":581,"y":0.232},{"x":585,"y":0.241},{"x":589,"y":0.235},{"x":593,"y":0.244},{"x":597,"y":0.236},{"x":601,"y":0.245},{"x":605,"y":0.237},{"x":609,"y":0.246},{"x":613,"y":0.236},{"x":617,"y":0.245},{"x":621,"y":0.235},{"x":625,"y":0.247},{"x":629,"y":0.236},{"x":633,"y":0.244},{"x":637,"y":0.234},{"x":641,"y":0.243},{"x":645,"y":0.232},{"x":649,"y":0.24},{"x":653,"y":0.229},{"x":657,"y":0.236},{"x":661,"y":0.224},{"x":665,"y":0.23},{"x":669,"y":0.219},{"x":673,"y":0.225},{"x":677,"y":0.213},{"x":681,"y":0.219},{"x":685,"y":0.207},{"x":689,"y":0.213},{"x":693,"y":0.202},{"x":697,"y":0.207},{"x":701,"y":0.196},{"x":705,"y":0.201},{"x":709,"y":0.189},{"x":713,"y":0.195},{"x":717,"y":0.183},{"x":721,"y":0.189},{"x":725,"y":0.177},{"x":729,"y":0.182},{"x":733,"y":0.171},{"x":737,"y":0.176},{"x":741,"y":0.165},{"x":745,"y":0.17},{"x":749,"y":0.159},{"x":753,"y":0.165},{"x":757,"y":0.154},{"x":761,"y":0.158},{"x":765,"y":0.147},{"x":769,"y":0.151},{"x":773,"y":0.14},{"x":777,"y":0.145},{"x":781,"y":0.133},{"x":785,"y":0.137},{"x":789,"y":0.127},{"x":793,"y":0.131},{"x":797,"y":0.119},{"x":801,"y":0.122},{"x":805,"y":0.112},{"x":809,"y":0.117},{"x":813,"y":0.106},{"x":817,"y":0.111},{"x":821,"y":0.101},{"x":825,"y":0.106},{"x":829,"y":0.096},{"x":833,"y":0.1},{"x":837,"y":0.091},{"x":841,"y":0.095},{"x":845,"y":0.086},{"x":849,"y":0.091},{"x":853,"y":0.08},{"x":857,"y":0.084},{"x":861,"y":0.073},{"x":865,"y":0.077},{"x":869,"y":0.066},{"x":873,"y":0.07},{"x":877,"y":0.059},{"x":881,"y":0.063},{"x":885,"y":0.053},{"x":889,"y":0.057},{"x":893,"y":0.046},{"x":897,"y":0.049},{"x":901,"y":0.036},{"x":905,"y":0.041},{"x":909,"y":0.031},{"x":913,"y":0.034},{"x":917,"y":0.024},{"x":921,"y":0.027},{"x":925,"y":0.018},{"x":929,"y":0.021},{"x":933,"y":0.012},{"x":937,"y":0.015},{"x":941,"y":0.005},{"x":945,"y":0.011},{"x":949,"y":0.003},{"x":953,"y":0.006},{"x":957,"y":-0.004},{"x":961,"y":-0.002},{"x":965,"y":-0.014},{"x":969,"y":-0.011},{"x":973,"y":-0.023},{"x":977,"y":-0.021},{"x":981,"y":-0.034},{"x":985,"y":-0.031},{"x":989,"y":-0.044},{"x":993,"y":-0.042},{"x":997,"y":-0.055},{"x":1001,"y":-0.053},{"x":1005,"y":-0.066},{"x":1009,"y":-0.069},{"x":1013,"y":-0.082},{"x":1017,"y":-0.084},{"x":1021,"y":-0.097},{"x":1024,"y":-0.1}],
    "supp": [{"x":1,"y":0.48},{"x":2,"y":-0.29},{"x":3,"y":0.03},{"x":4,"y":0.11},{"x":5,"y":-0.06},{"x":6,"y":0.05},{"x":7,"y":-0.04},{"x":8,"y":0.04},{"x":9,"y":-0.05},{"x":10,"y":0.03},{"x":13,"y":-0.04},{"x":17,"y":0.035},{"x":21,"y":-0.035},{"x":25,"y":0.04},{"x":29,"y":-0.03},{"x":33,"y":0.035},{"x":37,"y":-0.04},{"x":41,"y":0.03},{"x":45,"y":-0.03},{"x":49,"y":0.035},{"x":53,"y":-0.025},{"x":57,"y":0.03},{"x":61,"y":-0.03},{"x":65,"y":0.025},{"x":69,"y":-0.03},{"x":73,"y":0.03},{"x":77,"y":-0.02},{"x":81,"y":0.025},{"x":85,"y":-0.035},{"x":89,"y":0.03},{"x":93,"y":-0.03},{"x":97,"y":0.045},{"x":101,"y":-0.04},{"x":105,"y":0.03},{"x":109,"y":-0.02},{"x":113,"y":0.018},{"x":117,"y":-0.015},{"x":121,"y":0.02},{"x":125,"y":-0.012},{"x":129,"y":0.025},{"x":133,"y":-0.012},{"x":137,"y":0.01},{"x":141,"y":-0.008},{"x":145,"y":0.009},{"x":149,"y":-0.011},{"x":153,"y":0.006},{"x":157,"y":-0.009},{"x":161,"y":0.011},{"x":165,"y":-0.006},{"x":169,"y":0.008},{"x":173,"y":-0.01},{"x":177,"y":0.007},{"x":181,"y":-0.007},{"x":185,"y":0.012},{"x":189,"y":-0.009},{"x":193,"y":0.006},{"x":197,"y":-0.011},{"x":201,"y":0.013},{"x":205,"y":-0.008},{"x":209,"y":0.007},{"x":213,"y":-0.01},{"x":217,"y":0.009},{"x":221,"y":-0.006},{"x":225,"y":0.008},{"x":229,"y":-0.012},{"x":233,"y":0.006},{"x":237,"y":-0.008},{"x":241,"y":0.016},{"x":245,"y":-0.009},{"x":249,"y":0.007},{"x":253,"y":-0.01},{"x":257,"y":0.014},{"x":261,"y":-0.007},{"x":265,"y":0.009},{"x":269,"y":-0.01},{"x":273,"y":0.006},{"x":277,"y":-0.008},{"x":281,"y":0.01},{"x":285,"y":-0.011},{"x":289,"y":0.007},{"x":293,"y":-0.006},{"x":297,"y":0.009},{"x":301,"y":-0.009},{"x":305,"y":0.006},{"x":309,"y":-0.008},{"x":313,"y":0.01},{"x":317,"y":-0.007},{"x":321,"y":0.008},{"x":325,"y":-0.012},{"x":329,"y":0.007},{"x":333,"y":-0.006},{"x":337,"y":0.009},{"x":341,"y":-0.009},{"x":345,"y":0.006},{"x":349,"y":-0.008},{"x":353,"y":0.011},{"x":357,"y":-0.006},{"x":361,"y":0.008},{"x":365,"y":-0.01},{"x":369,"y":0.007},{"x":373,"y":-0.007},{"x":377,"y":0.009},{"x":381,"y":-0.011},{"x":385,"y":0.006},{"x":389,"y":-0.008},{"x":393,"y":0.01},{"x":397,"y":-0.006},{"x":401,"y":0.012},{"x":405,"y":-0.009},{"x":409,"y":0.006},{"x":413,"y":-0.008},{"x":417,"y":0.009},{"x":421,"y":-0.01},{"x":425,"y":0.007},{"x":429,"y":-0.006},{"x":433,"y":0.008},{"x":437,"y":-0.011},{"x":441,"y":0.006},{"x":445,"y":-0.008},{"x":449,"y":0.009},{"x":453,"y":-0.012},{"x":457,"y":0.007},{"x":461,"y":-0.006},{"x":465,"y":0.01},{"x":469,"y":-0.008},{"x":473,"y":0.006},{"x":477,"y":-0.009},{"x":481,"y":0.008},{"x":485,"y":-0.007},{"x":489,"y":0.009},{"x":493,"y":-0.01},{"x":497,"y":0.006},{"x":501,"y":-0.008},{"x":505,"y":0.011},{"x":509,"y":-0.006},{"x":513,"y":0.008},{"x":517,"y":-0.009},{"x":521,"y":0.007},{"x":525,"y":-0.011},{"x":529,"y":0.006},{"x":533,"y":-0.007},{"x":537,"y":0.009},{"x":541,"y":-0.008},{"x":545,"y":0.012},{"x":549,"y":-0.006},{"x":553,"y":0.008},{"x":557,"y":-0.01},{"x":561,"y":0.007},{"x":565,"y":-0.008},{"x":569,"y":0.009},{"x":573,"y":-0.006},{"x":577,"y":0.011},{"x":581,"y":-0.009},{"x":585,"y":0.006},{"x":589,"y":-0.008},{"x":593,"y":0.01},{"x":597,"y":-0.007},{"x":601,"y":0.008},{"x":605,"y":-0.009},{"x":609,"y":0.012},{"x":613,"y":-0.006},{"x":617,"y":0.009},{"x":621,"y":-0.01},{"x":625,"y":0.006},{"x":629,"y":-0.008},{"x":633,"y":0.008},{"x":637,"y":-0.011},{"x":641,"y":0.007},{"x":645,"y":-0.006},{"x":649,"y":0.009},{"x":653,"y":-0.008},{"x":657,"y":0.006},{"x":661,"y":-0.01},{"x":665,"y":0.008},{"x":669,"y":-0.007},{"x":673,"y":0.009},{"x":677,"y":-0.006},{"x":681,"y":0.007},{"x":685,"y":-0.009},{"x":689,"y":0.01},{"x":693,"y":-0.007},{"x":697,"y":0.006},{"x":701,"y":-0.01},{"x":705,"y":0.008},{"x":709,"y":-0.006},{"x":713,"y":0.009},{"x":717,"y":-0.008},{"x":721,"y":0.007},{"x":725,"y":-0.01},{"x":729,"y":0.006},{"x":733,"y":-0.008},{"x":737,"y":0.009},{"x":741,"y":-0.007},{"x":745,"y":0.011},{"x":749,"y":-0.012},{"x":753,"y":0.006},{"x":757,"y":-0.008},{"x":761,"y":0.008},{"x":765,"y":-0.006},{"x":769,"y":0.009},{"x":773,"y":-0.009},{"x":777,"y":0.007},{"x":781,"y":-0.007},{"x":785,"y":0.01},{"x":789,"y":-0.008},{"x":793,"y":0.006},{"x":797,"y":-0.009},{"x":801,"y":0.008},{"x":805,"y":-0.006},{"x":809,"y":0.012},{"x":813,"y":-0.009},{"x":817,"y":0.007},{"x":821,"y":-0.008},{"x":825,"y":0.009},{"x":829,"y":-0.006},{"x":833,"y":0.008},{"x":837,"y":-0.01},{"x":841,"y":0.006},{"x":845,"y":-0.008},{"x":849,"y":0.01},{"x":853,"y":-0.007},{"x":857,"y":0.008},{"x":861,"y":-0.009},{"x":865,"y":0.006},{"x":869,"y":-0.007},{"x":873,"y":0.011},{"x":877,"y":-0.008},{"x":881,"y":0.007},{"x":885,"y":-0.009},{"x":889,"y":0.008},{"x":893,"y":-0.006},{"x":897,"y":0.009},{"x":901,"y":-0.008},{"x":905,"y":0.006},{"x":909,"y":-0.01},{"x":913,"y":0.008},{"x":917,"y":-0.007},{"x":921,"y":0.009},{"x":925,"y":-0.006},{"x":929,"y":0.007},{"x":933,"y":-0.009},{"x":937,"y":0.008},{"x":941,"y":-0.007},{"x":945,"y":0.01},{"x":949,"y":-0.008},{"x":953,"y":0.013},{"x":957,"y":-0.009},{"x":961,"y":0.007},{"x":965,"y":-0.01},{"x":969,"y":0.008},{"x":973,"y":-0.006},{"x":977,"y":0.009},{"x":981,"y":-0.008},{"x":985,"y":0.007},{"x":989,"y":-0.009},{"x":993,"y":0.006},{"x":997,"y":-0.01},{"x":1001,"y":0.008},{"x":1005,"y":-0.007},{"x":1009,"y":0.009},{"x":1013,"y":-0.011},{"x":1017,"y":0.006},{"x":1021,"y":-0.008},{"x":1024,"y":-0.004}]
  },
  "vconcat": [
    {
      "bounds": "flush",
      "spacing": 81,
      "vconcat": [
        {
          "width": 661, "height": 220,
          "title": {"text": "Time Domain Convolution Watersuppression", "fontSize": 23.5, "offset": 1.7},
          "layer": [
            {"data": {"name": "redOne"}, "mark": {"type": "line", "color": "#ff0000"},
             "encoding": {
               "x": {"field": "x", "type": "quantitative", "scale": {"domain": [0, 70], "nice": false}, "axis": {"orient": "top", "labels": false, "title": null, "values": [0,10,20,30,40,50,60,70]}},
               "y": {"field": "y", "type": "quantitative", "scale": {"domain": [0, 1], "nice": false}, "axis": {"orient": "right", "labels": false, "title": null, "values": [0,0.2,0.4,0.6,0.8,1]}}}},
            {"data": {"name": "blue"}, "mark": {"type": "line", "color": "#0000ff"},
             "encoding": {
               "x": {"field": "x", "type": "quantitative", "axis": {"orient": "bottom", "title": null, "values": [0,10,20,30,40,50,60,70]}},
               "y": {"field": "y", "type": "quantitative", "axis": {"orient": "left", "title": null, "values": [0,0.2,0.4,0.6,0.8,1]}}}}
          ],
          "resolve": {"axis": {"x": "independent", "y": "independent"}}
        },
        {
          "width": 661, "height": 220,
          "layer": [
            {"data": {"name": "redMulti"}, "mark": {"type": "line", "color": "#ff0000"},
             "encoding": {
               "x": {"field": "x", "type": "quantitative", "scale": {"domain": [0, 70], "nice": false}, "axis": {"orient": "top", "labels": false, "title": null, "values": [0,10,20,30,40,50,60,70]}},
               "y": {"field": "y", "type": "quantitative", "scale": {"domain": [0, 1], "nice": false}, "axis": {"orient": "right", "labels": false, "title": null, "values": [0,0.2,0.4,0.6,0.8,1]}},
               "detail": {"field": "c", "type": "nominal"}}},
            {"data": {"name": "blue"}, "mark": {"type": "line", "color": "#0000ff"},
             "encoding": {
               "x": {"field": "x", "type": "quantitative", "axis": {"orient": "bottom", "title": null, "values": [0,10,20,30,40,50,60,70]}},
               "y": {"field": "y", "type": "quantitative", "axis": {"orient": "left", "title": null, "values": [0,0.2,0.4,0.6,0.8,1]}}}}
          ],
          "resolve": {"axis": {"x": "independent", "y": "independent"}}
        }
      ]
    },
    {
      "bounds": "flush",
      "spacing": 82,
      "vconcat": [
        {
          "width": 664, "height": 220,
          "title": {"text": "Original FID", "fontSize": 20.8, "offset": 1},
          "layer": [
            {"data": {"name": "fid"}, "mark": {"type": "line", "color": "#0000ff", "opacity": 0},
             "encoding": {
               "x": {"field": "x", "type": "quantitative", "scale": {"domain": [0, 1200], "nice": false}, "axis": {"orient": "top", "labels": false, "title": null, "values": [0,200,400,600,800,1000,1200]}},
               "y": {"field": "y", "type": "quantitative", "scale": {"domain": [-0.5, 1], "nice": false}, "axis": {"orient": "right", "labels": false, "title": null, "values": [-0.5,0,0.5,1]}}}},
            {"data": {"name": "fid"}, "mark": {"type": "line", "color": "#0000ff"},
             "encoding": {
               "x": {"field": "x", "type": "quantitative", "axis": {"orient": "bottom", "title": null, "labelFontSize": 14.4, "labelPadding": 13.3, "values": [0,200,400,600,800,1000,1200]}},
               "y": {"field": "y", "type": "quantitative", "axis": {"orient": "left", "title": null, "labelFontSize": 14.4, "labelPadding": 10.4, "values": [-0.5,0,0.5,1]}}}}
          ],
          "resolve": {"axis": {"x": "independent", "y": "independent"}}
        },
        {
          "width": 664, "height": 221,
          "title": {"text": "Time Domain Convolution Watersuppression", "fontSize": 20.8, "offset": 1},
          "layer": [
            {"data": {"name": "supp"}, "mark": {"type": "line", "color": "#0000ff", "opacity": 0},
             "encoding": {
               "x": {"field": "x", "type": "quantitative", "scale": {"domain": [0, 1200], "nice": false}, "axis": {"orient": "top", "labels": false, "title": null, "values": [0,200,400,600,800,1000,1200]}},
               "y": {"field": "y", "type": "quantitative", "scale": {"domain": [-0.5, 1], "nice": false}, "axis": {"orient": "right", "labels": false, "title": null, "values": [-0.5,0,0.5,1]}}}},
            {"data": {"name": "supp"}, "mark": {"type": "line", "color": "#0000ff"},
             "encoding": {
               "x": {"field": "x", "type": "quantitative", "axis": {"orient": "bottom", "title": null, "labelFontSize": 14.4, "labelPadding": 13.3, "values": [0,200,400,600,800,1000,1200]}},
               "y": {"field": "y", "type": "quantitative", "axis": {"orient": "left", "title": null, "labelFontSize": 14.4, "labelPadding": 10.4, "values": [-0.5,0,0.5,1]}}}}
          ],
          "resolve": {"axis": {"x": "independent", "y": "independent"}}
        }
      ]
    }
  ]
}
